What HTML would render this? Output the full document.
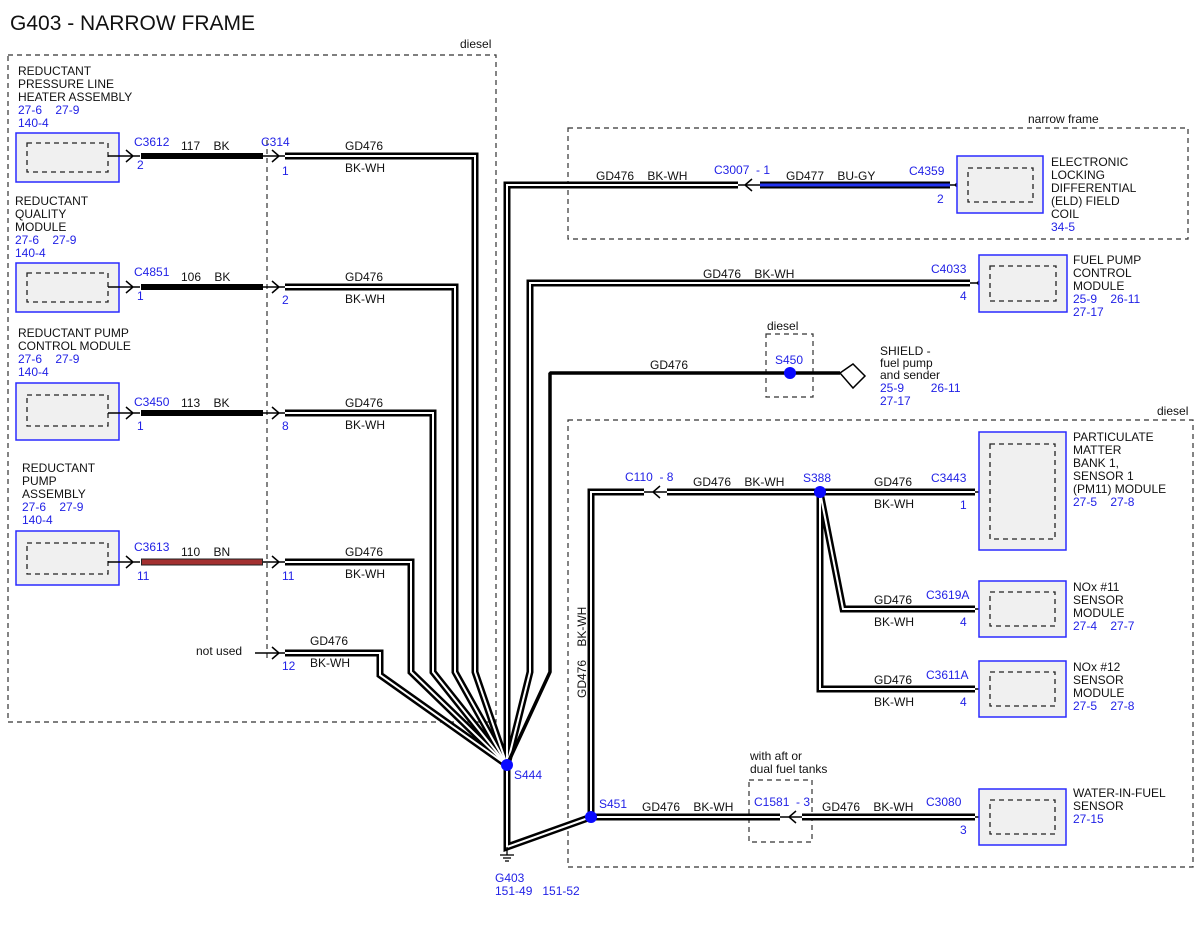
<!DOCTYPE html>
<html><head><meta charset="utf-8"><style>
html,body{margin:0;padding:0;background:#fff;}
svg{display:block;}
text{font-family:"Liberation Sans",sans-serif;font-size:12px;fill:#111;}
.b{fill:#1f1fe6;}
.t{font-size:21px;}
.o{fill:none;stroke:#000;stroke-width:7;stroke-linejoin:miter;stroke-miterlimit:2;}
.i{fill:none;stroke:#fff;stroke-width:2;stroke-linejoin:miter;stroke-miterlimit:2;}
.dash{fill:none;stroke:#333;stroke-width:1.2;stroke-dasharray:5,4;}
.box{fill:#f0f0f0;stroke:#2a2aff;stroke-width:1.5;}
.ibox{fill:none;stroke:#222;stroke-width:1.3;stroke-dasharray:5,4;}
.ar{fill:none;stroke:#000;stroke-width:1.5;}
.dot{fill:#0a0aff;}
</style></head><body>
<svg width="1200" height="927" viewBox="0 0 1200 927" xmlns="http://www.w3.org/2000/svg">
<defs>
<path id="w1" d="M285,156 H475 V672 L507,765"/>
<path id="w2" d="M285,287 H455 V672 L507,765"/>
<path id="w3" d="M285,413 H433 V672 L507,765"/>
<path id="w4" d="M285,562 H411 V672 L507,765"/>
<path id="w5" d="M285,653 H380 V675 L507,765"/>
<path id="w6" d="M507,765 V185 H738"/>
<path id="w7" d="M507,765 L530,672 V283 H970"/>
<path id="w9" d="M507,765 V847 L591,817"/>
<path id="w10" d="M591,817 V492 H644"/>
<path id="w10b" d="M667,492 H975"/>
<path id="w11" d="M820,492 L843,609 H975"/>
<path id="w12" d="M820,492 V689 H975"/>
<path id="w13" d="M591,817 H780"/>
<path id="w13b" d="M802,817 H975"/>
</defs>
<text x="10" y="30" class="t">G403 - NARROW FRAME</text>

<rect x="8" y="55" width="488" height="667" class="dash"/>
<text x="460" y="48">diesel</text>
<rect x="568" y="128" width="620" height="111" class="dash"/>
<text x="1028" y="123">narrow frame</text>
<rect x="568" y="420" width="625" height="447" class="dash"/>
<text x="1157" y="415">diesel</text>
<line x1="267" y1="140" x2="267" y2="660" class="dash"/>
<rect x="766" y="334" width="47" height="63" class="dash"/>
<text x="767" y="330">diesel</text>
<rect x="749" y="780" width="63" height="62" class="dash"/>

<g>
<rect x="16" y="133" width="103" height="49" class="box"/><rect x="27" y="143" width="81" height="29" class="ibox"/>
<rect x="16" y="263" width="103" height="49" class="box"/><rect x="27" y="273" width="81" height="29" class="ibox"/>
<rect x="16" y="383" width="103" height="57" class="box"/><rect x="27" y="395" width="81" height="31" class="ibox"/>
<rect x="16" y="531" width="103" height="54" class="box"/><rect x="27" y="543" width="81" height="31" class="ibox"/>
</g>
<text x="18" y="75">REDUCTANT</text><text x="18" y="88">PRESSURE LINE</text><text x="18" y="101">HEATER ASSEMBLY</text>
<text x="18" y="114" class="b">27-6&#160;&#160;&#160;&#160;27-9</text><text x="18" y="127" class="b">140-4</text>
<text x="15" y="205">REDUCTANT</text><text x="15" y="218">QUALITY</text><text x="15" y="231">MODULE</text>
<text x="15" y="244" class="b">27-6&#160;&#160;&#160;&#160;27-9</text><text x="15" y="257" class="b">140-4</text>
<text x="18" y="337">REDUCTANT PUMP</text><text x="18" y="350">CONTROL MODULE</text>
<text x="18" y="363" class="b">27-6&#160;&#160;&#160;&#160;27-9</text><text x="18" y="376" class="b">140-4</text>
<text x="22" y="472">REDUCTANT</text><text x="22" y="485">PUMP</text><text x="22" y="498">ASSEMBLY</text>
<text x="22" y="511" class="b">27-6&#160;&#160;&#160;&#160;27-9</text><text x="22" y="524" class="b">140-4</text>

<g class="ar">
<path d="M108,156 H140 M126,150 L133,156 L126,162"/>
<path d="M108,287 H140 M126,281 L133,287 L126,293"/>
<path d="M108,413 H140 M126,407 L133,413 L126,419"/>
<path d="M108,562 H140 M126,556 L133,562 L126,568"/>
<path d="M263,156 H285 M272,150 L279,156 L272,162"/>
<path d="M263,287 H285 M272,281 L279,287 L272,293"/>
<path d="M263,413 H285 M272,407 L279,413 L272,419"/>
<path d="M263,562 H285 M272,556 L279,562 L272,568"/>
<path d="M255,653 H285 M272,647 L279,653 L272,659"/>
</g>
<line x1="141" y1="156" x2="263" y2="156" stroke="#000" stroke-width="6"/>
<line x1="141" y1="287" x2="263" y2="287" stroke="#000" stroke-width="6"/>
<line x1="141" y1="413" x2="263" y2="413" stroke="#000" stroke-width="6"/>
<line x1="141" y1="562" x2="263" y2="562" stroke="#222" stroke-width="7"/>
<line x1="142" y1="562" x2="262" y2="562" stroke="#a33030" stroke-width="5"/>

<text x="134" y="146" class="b">C3612</text><text x="137" y="169" class="b">2</text><text x="181" y="150">117&#160;&#160;&#160;&#160;BK</text>
<text x="134" y="276" class="b">C4851</text><text x="137" y="300" class="b">1</text><text x="181" y="281">106&#160;&#160;&#160;&#160;BK</text>
<text x="134" y="406" class="b">C3450</text><text x="137" y="430" class="b">1</text><text x="181" y="407">113&#160;&#160;&#160;&#160;BK</text>
<text x="134" y="551" class="b">C3613</text><text x="137" y="580" class="b">11</text><text x="181" y="556">110&#160;&#160;&#160;&#160;BN</text>
<text x="261" y="146" class="b">C314</text>
<text x="282" y="175" class="b">1</text><text x="282" y="304" class="b">2</text><text x="282" y="430" class="b">8</text><text x="282" y="580" class="b">11</text><text x="282" y="670" class="b">12</text>
<text x="196" y="655">not used</text>
<text x="345" y="150">GD476</text><text x="345" y="172">BK-WH</text>
<text x="345" y="281">GD476</text><text x="345" y="303">BK-WH</text>
<text x="345" y="407">GD476</text><text x="345" y="429">BK-WH</text>
<text x="345" y="556">GD476</text><text x="345" y="578">BK-WH</text>
<text x="310" y="645">GD476</text><text x="310" y="667">BK-WH</text>

<g>
<use href="#w1" class="o"/><use href="#w2" class="o"/><use href="#w3" class="o"/><use href="#w4" class="o"/><use href="#w5" class="o"/>
<use href="#w6" class="o"/><use href="#w7" class="o"/><use href="#w9" class="o"/><use href="#w10" class="o"/><use href="#w10b" class="o"/>
<use href="#w11" class="o"/><use href="#w12" class="o"/><use href="#w13" class="o"/><use href="#w13b" class="o"/>
<use href="#w1" class="i"/><use href="#w2" class="i"/><use href="#w3" class="i"/><use href="#w4" class="i"/><use href="#w5" class="i"/>
<use href="#w6" class="i"/><use href="#w7" class="i"/><use href="#w9" class="i"/><use href="#w10" class="i"/><use href="#w10b" class="i"/>
<use href="#w11" class="i"/><use href="#w12" class="i"/><use href="#w13" class="i"/><use href="#w13b" class="i"/>
</g>
<path d="M507,765 L550,672 V373 H840" fill="none" stroke="#000" stroke-width="3.5" stroke-linejoin="bevel"/>
<line x1="760" y1="185" x2="950" y2="185" stroke="#000" stroke-width="7"/>
<line x1="760" y1="185" x2="950" y2="185" stroke="#2233ee" stroke-width="3"/>

<g class="ar">
<path d="M738,185 H760 M752,179 L745,185 L752,191"/>
<path d="M950,185 H967 M962,179 L955,185 L962,191"/>
<path d="M970,283 H990 M984,277 L977,283 L984,289"/>
<path d="M644,492 H667 M660,486 L653,492 L660,498"/>
<path d="M975,492 H990 M987,486 L980,492 L987,498"/>
<path d="M975,609 H990 M987,603 L980,609 L987,615"/>
<path d="M975,689 H990 M987,683 L980,689 L987,695"/>
<path d="M780,817 H802 M796,811 L789,817 L796,823"/>
<path d="M975,817 H990 M987,811 L980,817 L987,823"/>
<path d="M840,373 L853,364 L865,376 L853,388 Z"/>
</g>

<rect x="957" y="156" width="86" height="57" class="box"/><rect x="968" y="168" width="65" height="34" class="ibox"/>
<rect x="979" y="255" width="88" height="57" class="box"/><rect x="990" y="266" width="66" height="35" class="ibox"/>
<rect x="979" y="432" width="87" height="118" class="box"/><rect x="990" y="444" width="65" height="95" class="ibox"/>
<rect x="979" y="581" width="87" height="56" class="box"/><rect x="990" y="592" width="65" height="34" class="ibox"/>
<rect x="979" y="661" width="87" height="56" class="box"/><rect x="990" y="672" width="65" height="34" class="ibox"/>
<rect x="979" y="789" width="87" height="56" class="box"/><rect x="990" y="800" width="65" height="34" class="ibox"/>

<text x="1051" y="166">ELECTRONIC</text><text x="1051" y="179">LOCKING</text><text x="1051" y="192">DIFFERENTIAL</text><text x="1051" y="205">(ELD) FIELD</text><text x="1051" y="218">COIL</text><text x="1051" y="231" class="b">34-5</text>
<text x="1073" y="264">FUEL PUMP</text><text x="1073" y="277">CONTROL</text><text x="1073" y="290">MODULE</text><text x="1073" y="303" class="b">25-9&#160;&#160;&#160;&#160;26-11</text><text x="1073" y="316" class="b">27-17</text>
<text x="880" y="355">SHIELD -</text><text x="880" y="367">fuel pump</text><text x="880" y="379">and sender</text><text x="880" y="392" class="b">25-9&#160;&#160;&#160;&#160;&#160;&#160;&#160;&#160;26-11</text><text x="880" y="405" class="b">27-17</text>
<text x="1073" y="441">PARTICULATE</text><text x="1073" y="454">MATTER</text><text x="1073" y="467">BANK 1,</text><text x="1073" y="480">SENSOR 1</text><text x="1073" y="493">(PM11) MODULE</text><text x="1073" y="506" class="b">27-5&#160;&#160;&#160;&#160;27-8</text>
<text x="1073" y="591">NOx #11</text><text x="1073" y="604">SENSOR</text><text x="1073" y="617">MODULE</text><text x="1073" y="630" class="b">27-4&#160;&#160;&#160;&#160;27-7</text>
<text x="1073" y="671">NOx #12</text><text x="1073" y="684">SENSOR</text><text x="1073" y="697">MODULE</text><text x="1073" y="710" class="b">27-5&#160;&#160;&#160;&#160;27-8</text>
<text x="1073" y="797">WATER-IN-FUEL</text><text x="1073" y="810">SENSOR</text><text x="1073" y="823" class="b">27-15</text>

<text x="596" y="180">GD476&#160;&#160;&#160;&#160;BK-WH</text>
<text x="714" y="174" class="b">C3007&#160;&#160;- 1</text>
<text x="786" y="180">GD477&#160;&#160;&#160;&#160;BU-GY</text>
<text x="909" y="175" class="b">C4359</text><text x="937" y="203" class="b">2</text>
<text x="703" y="278">GD476&#160;&#160;&#160;&#160;BK-WH</text>
<text x="931" y="273" class="b">C4033</text><text x="960" y="300" class="b">4</text>
<text x="650" y="369">GD476</text>
<text x="775" y="364" class="b">S450</text>
<text x="625" y="481" class="b">C110&#160;&#160;- 8</text>
<text x="693" y="486">GD476&#160;&#160;&#160;&#160;BK-WH</text>
<text x="803" y="482" class="b">S388</text>
<text x="874" y="486">GD476</text><text x="874" y="508">BK-WH</text>
<text x="931" y="482" class="b">C3443</text><text x="960" y="509" class="b">1</text>
<text x="874" y="604">GD476</text><text x="874" y="626">BK-WH</text>
<text x="926" y="599" class="b">C3619A</text><text x="960" y="626" class="b">4</text>
<text x="874" y="684">GD476</text><text x="874" y="706">BK-WH</text>
<text x="926" y="679" class="b">C3611A</text><text x="960" y="706" class="b">4</text>
<text x="750" y="760">with aft or</text><text x="750" y="773">dual fuel tanks</text>
<text x="642" y="811">GD476&#160;&#160;&#160;&#160;BK-WH</text>
<text x="754" y="806" class="b">C1581&#160;&#160;- 3</text>
<text x="822" y="811">GD476&#160;&#160;&#160;&#160;BK-WH</text>
<text x="926" y="806" class="b">C3080</text><text x="960" y="834" class="b">3</text>
<text x="599" y="808" class="b">S451</text>
<text x="514" y="779" class="b">S444</text>
<text transform="translate(586,698) rotate(-90)">GD476&#160;&#160;&#160;&#160;BK-WH</text>

<g stroke="#000" stroke-width="1.3">
<line x1="507" y1="847" x2="507" y2="855"/><line x1="500" y1="855" x2="514" y2="855"/><line x1="503" y1="858" x2="511" y2="858"/><line x1="505" y1="861" x2="509" y2="861"/>
</g>
<text x="495" y="882" class="b">G403</text>
<text x="495" y="895" class="b">151-49&#160;&#160;&#160;151-52</text>

<circle cx="507" cy="765" r="6" class="dot"/>
<circle cx="591" cy="817" r="6" class="dot"/>
<circle cx="820" cy="492" r="6" class="dot"/>
<circle cx="790" cy="373" r="6" class="dot"/>
</svg>
</body></html>
